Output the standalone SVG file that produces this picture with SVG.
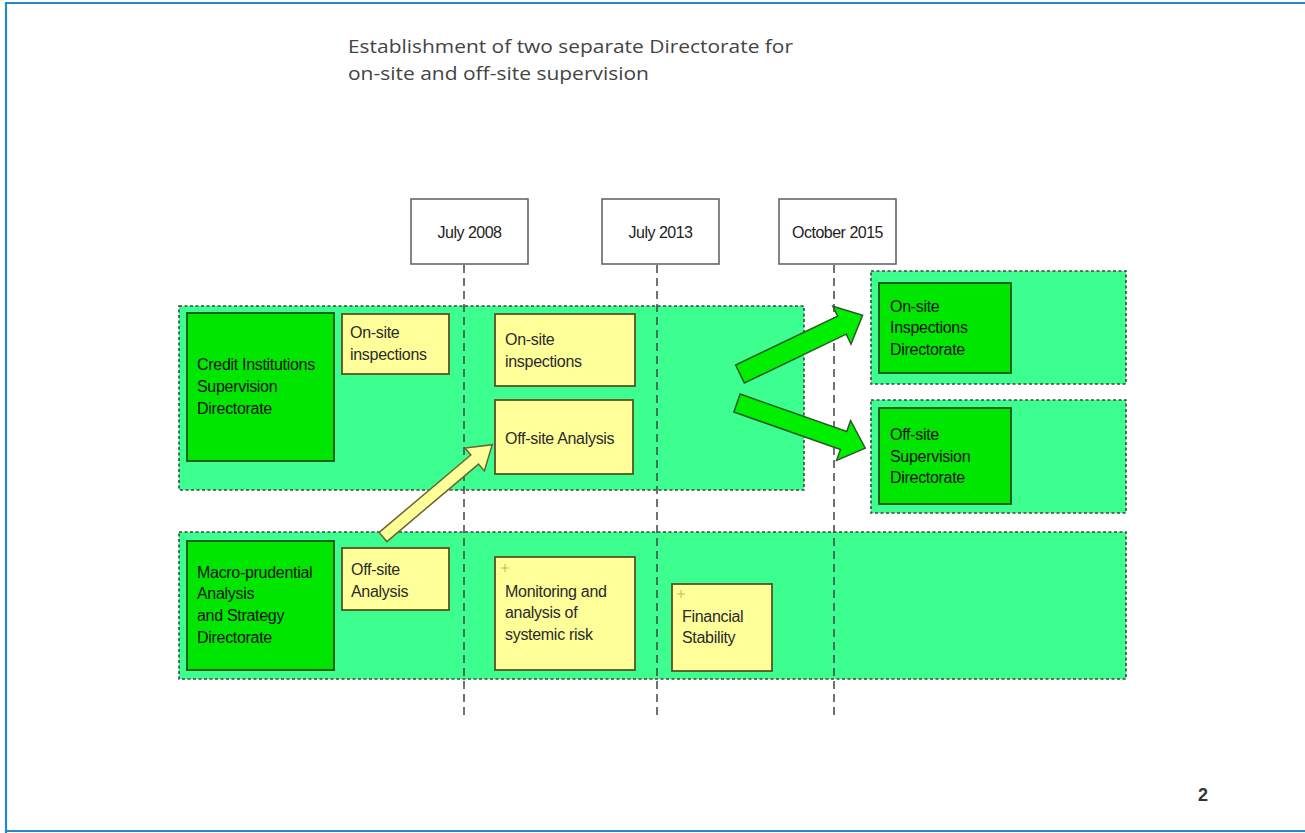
<svg xmlns="http://www.w3.org/2000/svg" width="1305" height="833" viewBox="0 0 1305 833">
<defs>
<style>
.band{fill:#3dff8f;stroke:#3a4a3a;stroke-width:1.6;stroke-dasharray:3 2.5}
.gbox{fill:#00e600;stroke:#1c4f1c;stroke-width:1.8}
.ybox{fill:#ffff99;stroke:#5a5320;stroke-width:1.8}
.dbox{fill:#ffffff;stroke:#666;stroke-width:1.6}
.tl{stroke:#444;stroke-width:1.5;stroke-dasharray:8 5;fill:none}
.t{font-family:"Liberation Sans",Arial,sans-serif;font-size:16px;fill:#111;letter-spacing:-0.3px}
.ty{font-family:"Liberation Sans",Arial,sans-serif;font-size:16px;fill:#2a2a2a;letter-spacing:-0.3px}
.td{font-family:"Liberation Sans",Arial,sans-serif;font-size:16px;fill:#222;text-anchor:middle;letter-spacing:-0.5px}
.garrow{fill:#00ee00;stroke:#2a5a2a;stroke-width:1.5;stroke-linejoin:miter}
.yarrow{fill:#ffff99;stroke:#6b6330;stroke-width:1.5}
.plus{stroke:#c8b060;stroke-width:1}
</style>
</defs>
<rect width="1305" height="833" fill="#ffffff"/>
<path d="M6,833 V3 H1305 M6,831 H1305" fill="none" stroke="#2a86c8" stroke-width="2.2"/>

<text x="348" y="53" font-family="'Open Sans','Noto Sans',sans-serif" font-size="19" fill="#444" textLength="445" lengthAdjust="spacingAndGlyphs">Establishment of two separate Directorate for</text>
<text x="348" y="80" font-family="'Open Sans','Noto Sans',sans-serif" font-size="19" fill="#444" textLength="301" lengthAdjust="spacingAndGlyphs">on-site and off-site supervision</text>

<g id="bands">
<rect id="band-top" class="band" x="179" y="306" width="625" height="184"/>
<rect id="band-bottom" class="band" x="179" y="532" width="947" height="147"/>
<rect id="band-right-top" class="band" x="871" y="271" width="255" height="113"/>
<rect id="band-right-bottom" class="band" x="871" y="400" width="255" height="113"/>
</g>

<g id="timeline">
<g id="date-2008"><rect class="dbox" x="411" y="199" width="117" height="65"/><text class="td" x="469.5" y="238">July 2008</text></g>
<g id="date-2013"><rect class="dbox" x="602" y="199" width="117" height="65"/><text class="td" x="660.5" y="238">July 2013</text></g>
<g id="date-2015"><rect class="dbox" x="779" y="199" width="117" height="65"/><text class="td" x="837.5" y="238">October 2015</text></g>
</g>

<g id="connectors">
<line class="tl" x1="464" y1="265" x2="464" y2="715"/>
<line class="tl" x1="657" y1="265" x2="657" y2="715"/>
<line class="tl" x1="834" y1="265" x2="834" y2="715"/>
<polygon class="yarrow" transform="translate(383,537) rotate(-40.2)" points="0,-6 120,-6 120,-15 143,0 120,15 120,6 0,6"/>
<polygon class="garrow" transform="translate(740,374) rotate(-25.6)" points="0,-10 113,-10 113,-21 136,0 113,21 113,10 0,10"/>
<polygon class="garrow" transform="translate(737,403) rotate(19.4)" points="0,-9.5 113,-9.5 113,-21 136,0 113,21 113,9.5 0,9.5"/>
</g>

<g id="credit-institutions">
<rect class="gbox" x="187" y="313" width="147" height="148"/>
<text class="t" x="197" y="370">Credit Institutions</text>
<text class="t" x="197" y="392">Supervision</text>
<text class="t" x="197" y="414">Directorate</text>
</g>
<g id="onsite-1">
<rect class="ybox" x="342" y="314" width="107" height="60"/>
<text class="ty" x="350" y="338">On-site</text>
<text class="ty" x="350" y="360">inspections</text>
</g>
<g id="onsite-2">
<rect class="ybox" x="495" y="314" width="140" height="72"/>
<text class="ty" x="505" y="345">On-site</text>
<text class="ty" x="505" y="367">inspections</text>
</g>
<g id="offsite-analysis-2">
<rect class="ybox" x="495" y="400" width="138" height="74"/>
<text class="ty" x="505" y="444">Off-site Analysis</text>
</g>
<g id="onsite-directorate">
<rect class="gbox" x="879" y="283" width="132" height="90"/>
<text class="t" x="890" y="312">On-site</text>
<text class="t" x="890" y="333">Inspections</text>
<text class="t" x="890" y="355">Directorate</text>
</g>
<g id="offsite-directorate">
<rect class="gbox" x="879" y="408" width="132" height="96"/>
<text class="t" x="890" y="440">Off-site</text>
<text class="t" x="890" y="462">Supervision</text>
<text class="t" x="890" y="483">Directorate</text>
</g>
<g id="macro-prudential">
<rect class="gbox" x="187" y="541" width="147" height="129"/>
<text class="t" x="197" y="578">Macro-prudential</text>
<text class="t" x="197" y="599">Analysis</text>
<text class="t" x="197" y="621">and Strategy</text>
<text class="t" x="197" y="643">Directorate</text>
</g>
<g id="offsite-analysis-1">
<rect class="ybox" x="342" y="548" width="107" height="62"/>
<text class="ty" x="351" y="575">Off-site</text>
<text class="ty" x="351" y="597">Analysis</text>
</g>
<g id="monitoring">
<rect class="ybox" x="495" y="557" width="140" height="113"/>
<path class="plus" d="M501,568 H509 M505,564 V572"/>
<text class="ty" x="505" y="597">Monitoring and</text>
<text class="ty" x="505" y="618">analysis of</text>
<text class="ty" x="505" y="640">systemic risk</text>
</g>
<g id="financial-stability">
<rect class="ybox" x="672" y="584" width="100" height="87"/>
<path class="plus" d="M677,594 H685 M681,590 V598"/>
<text class="ty" x="682" y="622">Financial</text>
<text class="ty" x="682" y="643">Stability</text>
</g>

<text x="1198" y="801" font-family="'Liberation Sans',Arial,sans-serif" font-size="18" font-weight="bold" fill="#333">2</text>
</svg>
